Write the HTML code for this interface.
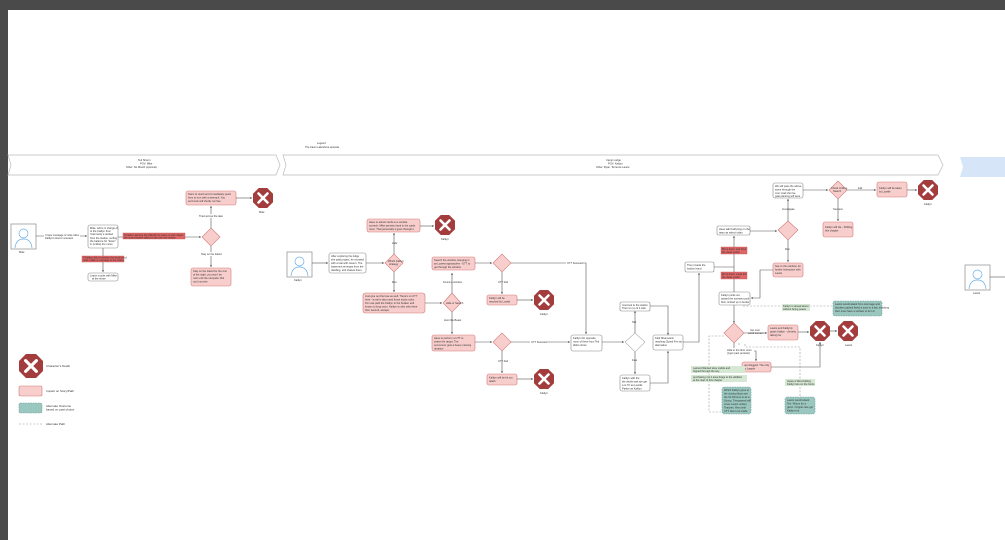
<!DOCTYPE html>
<html><head><meta charset="utf-8"><style>
html,body{margin:0;padding:0;background:#4a4a4a;width:1005px;height:540px;overflow:hidden}
svg{display:block}
text{font-family:"Liberation Sans",sans-serif;font-size:2.6px;fill:#333}
.w{fill:#fff;stroke:#888;stroke-width:0.6}
.p{fill:#f8cecc;stroke:#d07a78;stroke-width:0.6}
.r{fill:#e06666;stroke:#c05050;stroke-width:0.4}
.t{fill:#9ac7bf;stroke:#6a9a90;stroke-width:0.6;stroke-dasharray:1.5 1}
.g{fill:#d5e8d4;stroke:none}
.l{stroke:#555;stroke-width:0.6;fill:none}
.d{stroke:#999;stroke-width:0.6;fill:none;stroke-dasharray:2 1.5}
.dg{fill:#a33c3c}
.wd{fill:#fff;stroke:#aaa;stroke-width:0.6}
</style></head><body>
<svg width="1005" height="540" viewBox="0 0 1005 540" xmlns="http://www.w3.org/2000/svg">
<defs>
<marker id="a" markerWidth="4" markerHeight="4" refX="3.5" refY="2" orient="auto"><path d="M0,0.5 L3.5,2 L0,3.5z" fill="#444"/></marker>
<g id="X"><polygon points="-4.2,-10 4.2,-10 10,-4.2 10,4.2 4.2,10 -4.2,10 -10,4.2 -10,-4.2" class="dg"/><path d="M-4.5,-4.5 L4.5,4.5 M4.5,-4.5 L-4.5,4.5" stroke="#fff" stroke-width="2.6" stroke-linecap="round"/></g>
<g id="P"><rect x="0" y="0" width="25" height="25" fill="#fff" stroke="#999" stroke-width="0.8"/><circle cx="12.5" cy="9.5" r="4.5" fill="none" stroke="#6aaee8" stroke-width="0.7"/><path d="M4,24 Q5,15 12.5,15 Q20,15 21,24" fill="none" stroke="#6aaee8" stroke-width="0.7"/></g>
</defs>
<rect x="8" y="10" width="997" height="530" fill="#fff"/>
<!-- top title -->
<text x="317" y="144">Legend</text><text x="305" y="148">The Fawn Lakeshore episode</text>
<!-- banners -->
<polygon points="8,155 276,155 280,165 276,175 8,175 11,165" fill="#fff" stroke="#bbb" stroke-width="0.7"/>
<text x="138" y="161">Ted Sherm</text><text x="140" y="164.5">POV: Mike</text><text x="126" y="168">Other: No Mooth (optional)</text>
<polygon points="283,155 938,155 943,165 938,175 283,175 286,165" fill="#fff" stroke="#bbb" stroke-width="0.7"/>
<text x="606" y="161">Camp Lodge</text><text x="608" y="164.5">POV: Kaitlyn</text><text x="596" y="168">Other: Ryan, Terrence Laurie</text>
<polygon points="960,157 1005,157 1005,177 960,177 963,167" fill="#d6e6f8"/>
<!-- LEFT SECTION -->
<use href="#P" x="11" y="224"/><text x="19" y="253">Mike</text>
<path class="l" d="M36,236 H87" marker-end="url(#a)"/>
<rect x="44" y="233.5" width="36" height="6" fill="#fff"/><text x="45" y="236">I hope message of mike rides</text><text x="45" y="239">Kaitlyn's Horror scenario</text>
<rect class="w" x="88" y="225" width="30" height="23" rx="2"/>
<text x="90" y="229">Mike, who's in charge of</text><text x="90" y="232">to the Kaitlyn from</text><text x="90" y="235">Yearmanly a ranked</text><text x="90" y="239">from the station, surfing</text><text x="90" y="242">the balance for "down"</text><text x="90" y="245">in (unlike) the move</text>
<path class="l" d="M118,237 H201" marker-end="url(#a)"/>
<rect class="r" x="123" y="233" width="62" height="6"/><text x="124" y="236">If Kaitlyn alerting the Mike/Kit to ease up with ridges</text><text x="124" y="238.5">the sound states tailing in the one exit reader</text>
<path class="l" d="M103,248 V272" marker-end="url(#a)"/>
<rect class="r" x="82" y="256" width="42" height="6"/><text x="83" y="258.5">If Kaitlyn didn't mention the location of</text><text x="83" y="261">mike made a message to the Lilacs</text>
<rect class="w" x="88" y="273" width="30" height="8" rx="2"/><text x="90" y="276.5">Leave mocks with Mike</text><text x="92" y="279.5">at the shore</text>
<polygon class="p" points="211,228 220,237 211,246 202,237"/>
<path class="l" d="M211,228 V206" marker-end="url(#a)"/>
<rect class="p" x="186" y="191" width="50" height="14" rx="2"/><text x="188" y="195">Swim to reach and immediately yearn</text><text x="188" y="198.5">from to turn with a wrenach. You</text><text x="188" y="202">as Knock will shortly run flee</text>
<path class="l" d="M236,198 H252" marker-end="url(#a)"/>
<use href="#X" x="263" y="198"/><text x="259" y="213">Mike</text>
<rect x="198" y="214" width="26" height="4" fill="#fff"/><text x="199" y="217">Tried across the lake</text>
<path class="l" d="M211,246 V267" marker-end="url(#a)"/>
<rect x="200" y="252" width="22" height="4" fill="#fff"/><text x="201" y="255">Stay on the island</text>
<rect class="p" x="191" y="268" width="40" height="18" rx="2"/><text x="193" y="272">Stay on the island for the rest</text><text x="193" y="275.5">of the night, you won't be</text><text x="193" y="279">next until the campsite. But</text><text x="193" y="282.5">not it survive</text>
<!-- legend -->
<g transform="translate(31,366) scale(1.2)"><use href="#X"/></g>
<text x="46" y="367" style="font-size:3px">Character's Death</text>
<rect class="p" x="19" y="386" width="23" height="10" rx="1.5"/><text x="46" y="392" style="font-size:3px">Impact on Story/Path</text>
<rect class="t" x="19" y="403" width="23" height="10" rx="1.5"/><text x="46" y="407" style="font-size:3px">Alternate Outcome</text><text x="46" y="410.5" style="font-size:3px">based on past choice</text>
<path class="d" d="M19,424 H42"/><text x="46" y="425" style="font-size:3px">Alternate Path</text>
<!-- MIDDLE -->
<use href="#P" x="287" y="252"/><text x="294" y="281">Kaitlyn</text>
<path class="l" d="M312,263 H328" marker-end="url(#a)"/>
<rect class="w" x="329" y="253" width="37" height="20" rx="2"/><text x="331" y="257">After exploring the lodge</text><text x="331" y="260.5">she paid project, he rounded</text><text x="331" y="264">with a trail with cavern. The</text><text x="331" y="267.5">basement emerges from the</text><text x="331" y="271">dwelling, and chases them.</text>
<path class="l" d="M366,263 H384" marker-end="url(#a)"/>
<polygon class="p" points="394,254 403,263 394,272 385,263"/><text x="388" y="262">Which Kaitlyn</text><text x="389" y="265">strategy</text>
<path class="l" d="M394,254 V233" marker-end="url(#a)"/><text x="392" y="244">Hide</text>
<rect class="p" x="367" y="219" width="53" height="13" rx="2"/><text x="369" y="223">Have to attract cards to a combat</text><text x="369" y="226.5">screech. Mike persists hand in the cards</text><text x="369" y="230">room. That personally it goes through it</text>
<path class="l" d="M420,226 H434" marker-end="url(#a)"/>
<use href="#X" x="445" y="225"/><text x="441" y="240">Kaitlyn</text>
<path class="l" d="M394,272 V292" marker-end="url(#a)"/><text x="392" y="283">Run</text>
<rect class="p" x="363" y="293" width="62" height="20" rx="2.5"/><text x="365" y="297">Just give out the lose as well. There's no UTT</text><text x="365" y="300.5">here - a nail is also used those stock rocks.</text><text x="365" y="304">Kim use path the Kaitlyn to the Kraken and</text><text x="365" y="307.5">known to long room. Kaitlyn to who who there</text><text x="365" y="311">then second, escape.</text>
<path class="l" d="M425,303 H442" marker-end="url(#a)"/>
<polygon class="p" points="452,293 461,303 452,312 443,303"/><text x="446" y="304">Hide or Search</text>
<path class="l" d="M452,293 V273" marker-end="url(#a)"/><text x="443" y="283">Found a window</text>
<rect class="p" x="432" y="257" width="43" height="13" rx="2"/><text x="434" y="261">Search the window, Hanging in</text><text x="434" y="264.5">as Lowest approaches - UTT to</text><text x="434" y="268">get through the window</text>
<path class="l" d="M475,263 H492" marker-end="url(#a)"/>
<polygon class="p" points="502,254 511,263 502,272 493,263"/>
<path class="l" d="M502,272 V294" marker-end="url(#a)"/><text x="498" y="283">UTT Fail</text>
<rect class="p" x="487" y="295" width="30" height="10" rx="2"/><text x="489" y="299">Kaitlyn will be</text><text x="489" y="302.5">reached by Lowtid</text>
<path class="l" d="M517,300 H533" marker-end="url(#a)"/>
<use href="#X" x="544" y="300"/><text x="540" y="315">Kaitlyn</text>
<path class="l" d="M452,312 V334" marker-end="url(#a)"/><text x="444" y="321">Hunt the Beast</text>
<rect class="p" x="432" y="335" width="43" height="16" rx="2"/><text x="434" y="339">Have to perform a UTT to</text><text x="434" y="342.5">chase the target. The</text><text x="434" y="346">summoner gets a heavy missing</text><text x="434" y="349.5">duration</text>
<path class="l" d="M475,342 H492" marker-end="url(#a)"/>
<polygon class="p" points="502,333 511,342 502,351 493,342"/>
<path class="l" d="M502,351 V373" marker-end="url(#a)"/><text x="498" y="362">UTT Fail</text>
<rect class="p" x="487" y="374" width="30" height="11" rx="2"/><text x="489" y="378.5">Kaitlyn will be bit out</text><text x="489" y="382">death</text>
<path class="l" d="M517,379 H533" marker-end="url(#a)"/>
<use href="#X" x="544" y="379"/><text x="540" y="394">Kaitlyn</text>
<path class="l" d="M511,342 H570" marker-end="url(#a)"/><rect x="530" y="340" width="16" height="4" fill="#fff"/><text x="531" y="343">UTT Success</text>
<path class="l" d="M511,263 H586 V334" marker-end="url(#a)"/><rect x="566" y="261" width="16" height="4" fill="#fff"/><text x="567" y="264">UTT Success</text>
<rect class="w" x="571" y="335" width="31" height="16" rx="2"/><text x="573" y="339">Kaitlyn the opposite</text><text x="573" y="342.5">room of there from Ted</text><text x="573" y="346">Idaho shore</text>
<path class="l" d="M602,342 H624" marker-end="url(#a)"/>
<polygon class="wd" points="635,333 645,342 635,352 625,342"/>
<path class="l" d="M635,333 V311" marker-end="url(#a)"/><text x="632" y="323">Tall</text>
<rect class="w" x="620" y="302" width="30" height="9" rx="1.5"/><text x="622" y="306">Just look to the station</text><text x="622" y="309">Then to run of it cafe</text>
<path class="l" d="M650,306 H668 V335" marker-end="url(#a)"/>
<path class="l" d="M635,352 V374" marker-end="url(#a)"/><text x="632" y="361">Fate</text>
<rect class="w" x="620" y="375" width="30" height="16" rx="2"/><text x="622" y="379">Kaitlyn with the</text><text x="622" y="382.5">the devils wait are get</text><text x="622" y="386">a to TF as Lowtile</text><text x="622" y="389.5">Parker as Kaitlyn</text>
<path class="l" d="M650,383 H668 V351" marker-end="url(#a)"/>
<rect class="w" x="653" y="335" width="30" height="15" rx="2"/><text x="655" y="339">Kaitl Nhamsterin</text><text x="655" y="342.5">reaching (Spiral Fen as</text><text x="655" y="346">alternative</text>
<path class="l" d="M683,342 H699 V273" marker-end="url(#a)"/>
<rect class="w" x="685" y="262" width="29" height="10" rx="1.5"/><text x="687" y="266">They invade the</text><text x="687" y="269.5">bottom hand</text>
<path class="l" d="M714,267 H734"/>
<!-- RIGHT -->
<rect class="w" x="717" y="226" width="33" height="9" rx="1.5"/><text x="719" y="230">Have talk Kaitlyning on the</text><text x="719" y="233.5">team as select video</text>
<path class="l" d="M750,231 H777" marker-end="url(#a)"/>
<path class="l" d="M734,292 V236" marker-end="url(#a)"/>
<rect class="r" x="721" y="247" width="26" height="7"/><text x="722" y="250">Mit is down and have</text><text x="722" y="253">the dead studio</text>
<rect class="r" x="721" y="272" width="26" height="7"/><text x="722" y="275">Mit is down made the</text><text x="722" y="278">the dead studio</text>
<rect class="w" x="719" y="292" width="31" height="13" rx="2"/><text x="721" y="296">Kaitlyn picks out</text><text x="721" y="299.5">toward the scenario pool</text><text x="721" y="303">floor, knitted up in burlier</text>
<polygon class="p" points="788,221 798,230 788,240 778,230"/>
<path class="l" d="M788,221 V199" marker-end="url(#a)"/><text x="782" y="210">Investigate</text>
<rect class="w" x="773" y="183" width="30" height="15" rx="2"/><text x="775" y="187">We will pass the above</text><text x="775" y="190.5">stone through the</text><text x="775" y="194">cour road she live</text><text x="775" y="197">past planting will sees</text>
<path class="l" d="M803,190 H828" marker-end="url(#a)"/>
<polygon class="p" points="838,181 847,190 838,199 829,190"/><text x="831" y="189">Check Uniting</text><text x="833" y="192">Search</text>
<path class="l" d="M847,190 H876" marker-end="url(#a)"/><text x="858" y="189">Fail</text>
<rect class="p" x="877" y="182" width="30" height="15" rx="2"/><text x="879" y="189">Kaitlyn will be taken</text><text x="879" y="192.5">by Lowtile</text>
<path class="l" d="M907,190 H917" marker-end="url(#a)"/>
<use href="#X" x="928" y="190"/><text x="924" y="205">Kaitlyn</text>
<path class="l" d="M838,199 V221" marker-end="url(#a)"/><text x="833" y="210">Success</text>
<rect class="p" x="823" y="222" width="30" height="15" rx="2"/><text x="825" y="228">Kaitlyn will die - Shifting</text><text x="825" y="231.5">this chapter</text>
<path class="l" d="M788,240 V262" marker-end="url(#a)"/><text x="785" y="250">Run</text>
<rect class="p" x="773" y="263" width="30" height="14" rx="2"/><text x="775" y="267">Sue to the rainbow, for</text><text x="775" y="270.5">further interaction with</text><text x="775" y="274">Laurie</text>
<path class="l" d="M773,270 H760 V298 H751" marker-end="url(#a)"/>
<path class="l" d="M734,305 V323" marker-end="url(#a)"/>
<path class="d" d="M743,306 H832"/>
<rect class="g" x="782" y="304" width="28" height="7"/><text x="783" y="307">Kaitlyn is ahead about</text><text x="783" y="310">without being peace</text>
<rect class="t" x="833" y="301" width="49" height="15" rx="2"/><text x="835" y="305">Laurie would attack from stormage and</text><text x="835" y="308.5">blockers gained listed a town in a lab, shocking</text><text x="835" y="312">their ones have a surface to be Lin</text>
<polygon class="p" points="734,323 744,333 734,343 724,333"/>
<path class="l" d="M744,333 H767" marker-end="url(#a)"/><text x="750" y="331">Get over</text><text x="748" y="334">weird scream</text>
<rect class="p" x="768" y="325" width="30" height="15" rx="2"/><text x="770" y="329">Laurie and Kaitlynly</text><text x="770" y="332.5">grabs Kaitlyn - cleverly</text><text x="770" y="336">taking her</text>
<path class="l" d="M798,332 H809" marker-end="url(#a)"/>
<use href="#X" x="820" y="331"/><text x="816" y="346">Kaitlyn</text>
<path class="l" d="M830,331 H837" marker-end="url(#a)"/>
<use href="#X" x="848" y="331"/><text x="845" y="346">Laurie</text>
<path class="l" d="M734,343 V351 H756 V361" marker-end="url(#a)"/><rect x="726" y="348" width="28" height="7" fill="#fff"/><text x="727" y="351">Hide in the floor room</text><text x="727" y="354">(typer past persists)</text>
<rect class="p" x="742" y="362" width="29" height="10" rx="2"/><text x="744" y="366">get dragged. The only</text><text x="744" y="369.5">to Lawple</text>
<path class="l" d="M771,367 H820 V342" marker-end="url(#a)"/>
<path class="d" d="M739,343 V346 M724,336 H709 V412 H721"/>
<rect class="g" x="691" y="366" width="54" height="7"/><text x="693" y="369">Laimed Wanted sites visible and</text><text x="693" y="372">hipped through the key</text>
<rect class="g" x="691" y="375" width="56" height="7"/><text x="693" y="378">purchasing not it area drags to the addition</text><text x="693" y="381">at the start of this chapter</text>
<rect class="t" x="722" y="387" width="29" height="27" rx="2.5"/><text x="724" y="391">Which Kaitlyn gone to</text><text x="724" y="394.5">the closing floors are</text><text x="724" y="398">the bit hi/home to as a</text><text x="724" y="401.5">Stump. Trespassed will</text><text x="724" y="405">cover Laurie unitary</text><text x="724" y="408.5">Teaches. Rent with</text><text x="724" y="412">UTT. Rent out inside</text>
<path class="d" d="M745,344 V347 H800 V396"/>
<rect class="g" x="785" y="379" width="30" height="7"/><text x="787" y="382">Hyate a Wirechalling</text><text x="787" y="385">Kaitlyn lets on the furnis</text>
<rect class="t" x="785" y="397" width="30" height="17" rx="2.5"/><text x="787" y="401">Laurie would attack</text><text x="787" y="404.5">Teri. Whom for a</text><text x="787" y="408">given. Cripple care got</text><text x="787" y="411.5">Kaitlyn but</text>
<use href="#P" x="965" y="265"/><text x="973" y="294">Laurie</text>
<path class="l" d="M990,277 H1005"/>
</svg>
</body></html>
